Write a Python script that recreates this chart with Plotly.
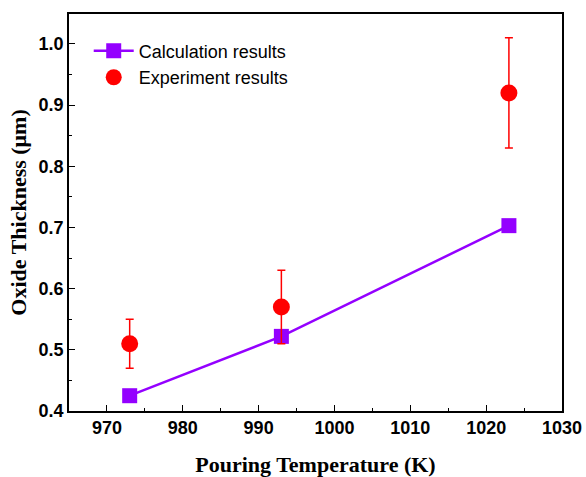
import plotly.graph_objects as go

# Pouring temperature (K)
temps = [973, 993, 1023]
# Calculated oxide thickness (µm)
calc_thickness = [0.425, 0.522, 0.703]
# Measured oxide thickness (µm) and its spread
exp_thickness = [0.51, 0.57, 0.92]
exp_error = [0.04, 0.06, 0.09]

x_ticks = [970, 980, 990, 1000, 1010, 1020, 1030]
y_ticks = [0.4, 0.5, 0.6, 0.7, 0.8, 0.9, 1.0]

purple = "#9400FF"
red = "#FF0000"

fig = go.Figure()
fig.add_trace(go.Scatter(
    x=temps, y=calc_thickness, mode="lines+markers",
    name="Calculation results",
    line=dict(color=purple, width=2.5),
    marker=dict(symbol="square", size=15, color=purple),
))
fig.add_trace(go.Scatter(
    x=temps, y=exp_thickness, mode="markers",
    name="Experiment results",
    marker=dict(symbol="circle", size=17, color=red),
    error_y=dict(type="data", array=exp_error, color=red, thickness=1.5, width=4),
))

axis_common = dict(
    showline=True, linecolor="black", linewidth=1.5, mirror=True,
    showgrid=False, zeroline=False, automargin=False,
    ticks="inside", ticklen=6, tickwidth=1, tickcolor="black",
    tickfont=dict(family="Liberation Sans, Arial", size=18, color="black"),
)
title_font = dict(family="Liberation Serif, Times New Roman", size=22, color="black")

fig.update_xaxes(
    range=[965, 1030], tickvals=x_ticks,
    ticktext=[f"<b>{v}</b>" for v in x_ticks],
    minor=dict(ticks="inside", ticklen=3, dtick=5, tick0=965, tickcolor="black"),
    title=dict(text="<b>Pouring Temperature (K)</b>", standoff=19, font=title_font),
    **axis_common,
)
fig.update_yaxes(
    range=[0.4, 1.049], tickvals=y_ticks,
    ticktext=[f"<b>{v:.1f}</b>" for v in y_ticks],
    minor=dict(ticks="inside", ticklen=3, dtick=0.05, tick0=0.4, tickcolor="black"),
    title=dict(text="<b>Oxide Thickness (μm)</b>", standoff=6, font=title_font),
    **axis_common,
)

fig.update_layout(
    width=586, height=477,
    margin=dict(l=69, r=24, t=14, b=66),
    plot_bgcolor="white", paper_bgcolor="white",
    showlegend=True,
    legend=dict(
        x=0.04, y=0.953, xanchor="left", yanchor="top",
        bgcolor="rgba(0,0,0,0)",
        font=dict(family="Liberation Sans, Arial", size=18, color="black"),
        itemwidth=40, tracegroupgap=0,
    ),
)

fig.write_html("out.html")
